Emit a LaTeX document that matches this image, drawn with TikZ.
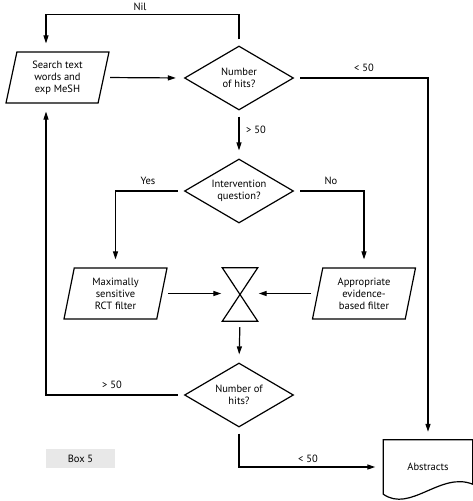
\documentclass[tikz,border=0pt]{standalone}
\usepackage{fontspec}
\setmainfont{PT Sans}
\usetikzlibrary{arrows.meta,shapes.geometric}

\begin{document}
\begin{tikzpicture}[
  x=1pt, y=-1pt,
  font=\fontsize{10.5}{12}\selectfont,
  box/.style={draw, line width=1.2pt, align=center, inner sep=0pt},
  inputbox/.style={box, trapezium, trapezium left angle=72, trapezium right angle=108,
    trapezium stretches body, minimum width=103pt, minimum height=51pt},
  decision/.style={box, diamond, shape aspect=1.7, minimum width=109pt, minimum height=64pt},
  collate/.style={inner sep=0pt, minimum width=35pt, minimum height=53pt},
  docshape/.style={align=center, inner sep=0pt, minimum width=89pt, minimum height=54pt},
  outline/.style={line width=1.2pt, line join=miter},
  flow/.style={line width=1.2pt, -{Triangle[length=8pt, width=5pt]}, shorten <=6pt, shorten >=8pt},
  lab/.style={inner sep=1pt},
  boxlab/.style={fill=gray!18, minimum width=69pt, minimum height=19pt, inner sep=0pt},
]
\useasboundingbox (0,0) rectangle (473,501);
\coordinate (loop) at (46,0);
% shapes
\node[inputbox] (search) at (57.5,77.5) {Search text\\words and\\exp MeSH};
\node[decision] (hits1) at (239,78) {Number\\of hits?};
\node[decision] (intervention) at (239,191) {Intervention\\question?};
\node[inputbox] (maxrct) at (115.5,293.5) {Maximally\\sensitive\\RCT filter};
\node[inputbox] (evid) at (364,293.5) {Appropriate\\evidence-\\based filter};
\node[collate] (merge) at (240,294.5) {};
\draw[outline] (merge.north west) -- (merge.north east) -- (merge.south west) -- (merge.south east) -- cycle;
\node[decision] (hits2) at (239,395) {Number of\\hits?};
\node[docshape] (abs) at (428,467) {Abstracts};
\draw[outline] (abs.north west) -- (abs.south west)
  .. controls +(27,19) and +(-32,-13) .. ([yshift=10pt]abs.south east)
  -- (abs.north east) -- cycle;
\node[boxlab] (box) at (80.5,458.5) {Box 5};
% labels
\node[lab] (nil) at (140,7) {Nil};
\node[lab] (lt1) at (364,68) {< 50};
\node[lab] (gt1) at (256,130) {> 50};
\node[lab] (yes) at (148,181) {Yes};
\node[lab] (no) at (331,181) {No};
\node[lab] (gt2) at (112,385) {> 50};
\node[lab] (lt2) at (308,459) {< 50};
% connectors
\draw[flow] (search.east) -- (hits1.west);
\draw[flow] (hits1.north) -- ++(0,-31) -| (search.north -| loop);
\draw[flow] (hits1.east) -| (abs.north);
\draw[flow] (hits1.south) -- (intervention.north);
\draw[flow] (intervention.west) -| (maxrct.north);
\draw[flow] (intervention.east) -| (evid.north);
\draw[flow, shorten >=1pt] (maxrct.east) -- (maxrct.east -| merge.west);
\draw[flow, shorten >=1pt] (evid.west) -- (evid.west -| merge.east);
\draw[flow] (merge.south) -- (hits2.north);
\draw[flow] (hits2.west) -| (search.south -| loop);
\draw[flow] (hits2.south) |- (abs.west);
\end{tikzpicture}
\end{document}
